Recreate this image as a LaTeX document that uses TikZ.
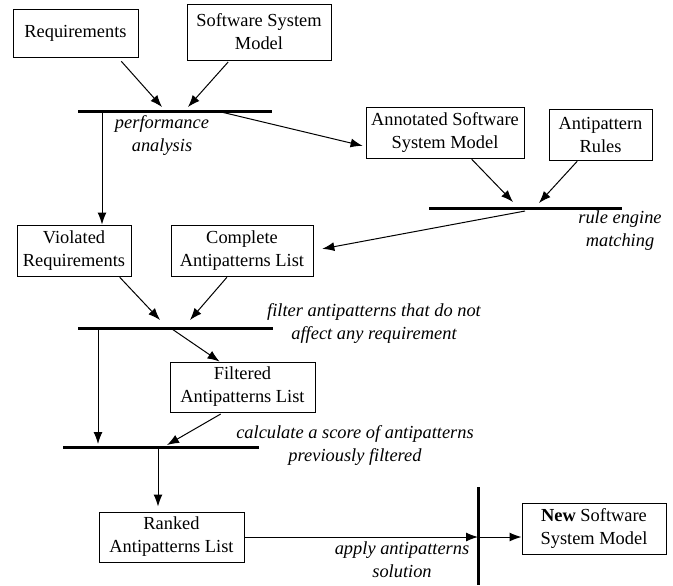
\documentclass[tikz,border=0pt]{standalone}
\usepackage{fontspec}
\setmainfont{Liberation Serif}
\usetikzlibrary{arrows.meta}

\begin{document}
\begin{tikzpicture}[x=0.5pt,y=-0.5pt,
  box/.style={draw,line width=0.5pt,align=center,inner sep=0pt,font=\fontsize{9.2}{11.5}\selectfont},
  lbl/.style={align=center,inner sep=0pt,font=\fontsize{9.2}{11.5}\selectfont\itshape},
  bar/.style={line width=1.5pt},
  arr/.style={line width=0.5pt,-{Latex[length=6pt,width=4.5pt]}}]
\useasboundingbox (0,0) rectangle (673,585);

\node[box,minimum width=62.5pt,minimum height=24pt] (req) at (75.5,33) {Requirements};
\node[box,minimum width=72pt,minimum height=28pt] (ssm) at (259,32) {Software System\\Model};
\node[box,minimum width=79pt,minimum height=25.5pt] (assm) at (445,132.5) {Annotated Software\\System Model};
\node[box,minimum width=51.5pt,minimum height=25.5pt] (rules) at (600.5,134.5) {Antipattern\\Rules};
\node[box,minimum width=57pt,minimum height=25.5pt] (viol) at (74,250.5) {Violated\\Requirements};
\node[box,minimum width=71pt,minimum height=25.5pt] (compl) at (242,250.5) {Complete\\Antipatterns List};
\node[box,minimum width=72.5pt,minimum height=25pt] (filt) at (242.5,387) {Filtered\\Antipatterns List};
\node[box,minimum width=72.5pt,minimum height=25pt] (rank) at (171.5,537) {Ranked\\Antipatterns List};
\node[box,minimum width=72pt,minimum height=25.5pt] (newm) at (594,528.5) {\textbf{New} Software\\System Model};

% bars
\coordinate (b1w) at (78,111);  \coordinate (b1e) at (272,111);
\coordinate (b2w) at (429,208); \coordinate (b2e) at (622,208);
\coordinate (b3w) at (78,328);  \coordinate (b3e) at (273,328);
\coordinate (b4w) at (63,447);  \coordinate (b4e) at (259,447);
\coordinate (b5t) at (478,487); \coordinate (b5b) at (478,585);
\draw[bar] (b1w) -- (b1e);
\draw[bar] (b2w) -- (b2e);
\draw[bar] (b3w) -- (b3e);
\draw[bar] (b4w) -- (b4e);
\draw[bar] (b5t) -- (b5b);

% points on the bars
\coordinate (p1a) at (162,107);
\coordinate (p1b) at (188,107);
\coordinate (p1l) at (102,111);
\coordinate (p1r) at (217,111);
\coordinate (p2a) at (513,202);
\coordinate (p2b) at (539,203);
\coordinate (p2m) at (525,211);
\coordinate (p3a) at (160,320);
\coordinate (p3b) at (190,320);
\coordinate (p3l) at (98,328);
\coordinate (p3m) at (172,329);
\coordinate (p4l) at (98,447);
\coordinate (p4a) at (167,445);
\coordinate (p4m) at (158,449);

\draw[arr,shorten <=2.5pt] (req.-30) -- (p1a);
\draw[arr,shorten <=1pt] (ssm.-136) -- (p1b);
\draw[arr,shorten >=0pt] (p1l) -- (p1l |- viol.north);
\draw[arr,shorten >=1.5pt] (p1r) -- (assm.-170);
\draw[arr,shorten <=0.5pt] (assm.-45) -- (p2a);
\draw[arr,shorten <=0.5pt] (rules.-131) -- (p2b);
\draw[arr,shorten >=4.5pt] (p2m) -- (compl.east);
\draw[arr,shorten <=0.5pt] (viol.-30) -- (p3a);
\draw[arr,shorten <=0.5pt] (compl.-119) -- (p3b);
\draw[arr,shorten >=1.5pt] (p3l) -- (p4l);
\draw[arr] (p3m) -- (filt.132);
\draw[arr,shorten <=1.5pt] (filt.-127) -- (p4a);
\draw[arr,shorten >=2.5pt] (p4m) -- (p4m |- rank.north);
\draw[arr] (rank.east) -- (rank.east -| b5t);
\draw[arr] (rank.east -| b5t) -- (rank.east -| newm.west);

\node[lbl] (lperf) at (162,135) {performance\\analysis};
\node[lbl] (lrule) at (620,231) {rule engine\\matching};
\node[lbl] (lfilt) at (374,323) {filter antipatterns that do not\\affect any requirement};
\node[lbl] (lcalc) at (355,445) {calculate a score of antipatterns\\previously filtered};
\node[lbl] (lappl) at (402,560) {apply antipatterns\\solution};
\end{tikzpicture}
\end{document}
